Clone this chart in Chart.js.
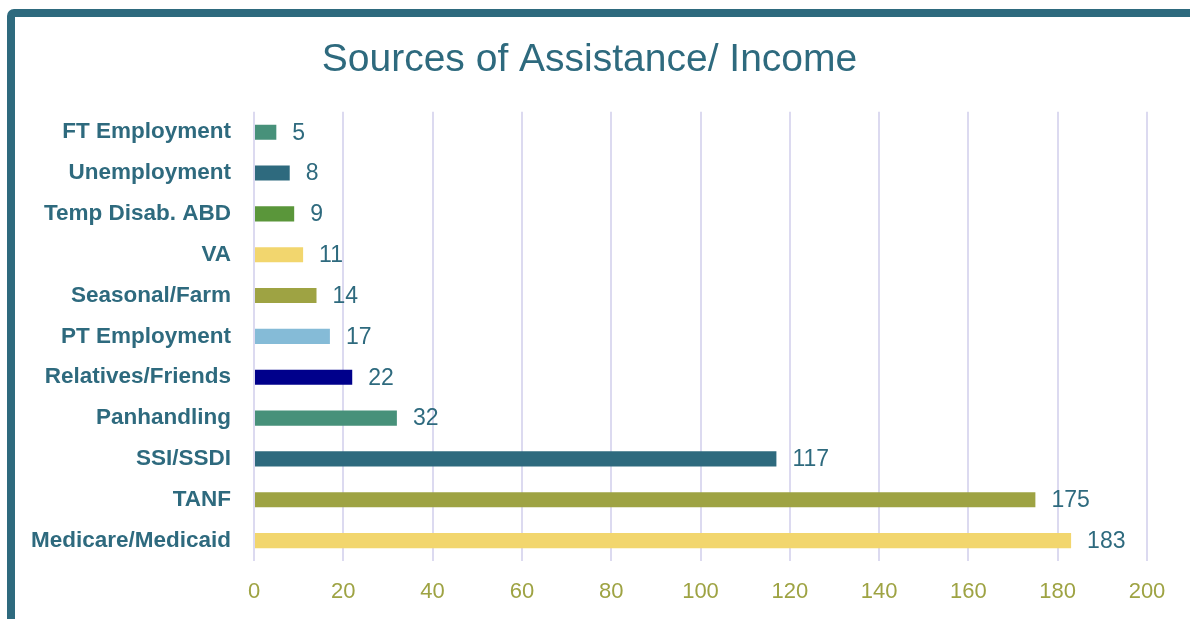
<!DOCTYPE html>
<html lang="en">
<head>
    <meta charset="UTF-8">
    <title>Sources of Assistance/ Income</title>
    <script src="https://cdn.jsdelivr.net/npm/chart.js"></script>
    <style>
        html, body {
            margin: 0;
            padding: 0;
            background: #ffffff;
            overflow: hidden;
        }
        .frame {
            position: absolute;
            left: 7px;
            top: 9px;
            width: 1400px;
            height: 800px;
            border: 8px solid #2e6a7e;
            border-radius: 7px;
        }
        .chart-box {
            position: absolute;
            left: 0;
            top: 0;
            width: 1190px;
            height: 619px;
        }
    </style>
</head>
<body>
    <div class="frame"></div>
    <div class="chart-box">
        <canvas id="incomeChart" width="1190" height="619"></canvas>
    </div>

    <script>
        const sources = [
            'FT Employment', 'Unemployment', 'Temp Disab. ABD', 'VA', 'Seasonal/Farm',
            'PT Employment', 'Relatives/Friends', 'Panhandling', 'SSI/SSDI', 'TANF', 'Medicare/Medicaid'
        ];
        const counts = [5, 8, 9, 11, 14, 17, 22, 32, 117, 175, 183];
        const barColors = [
            '#47917a', '#2e6a7e', '#5a963a', '#f2d66e', '#9ea343',
            '#85bbd7', '#00008b', '#47917a', '#2e6a7e', '#9ea343', '#f2d66e'
        ];
        const xMax = 200;
        const xStep = 20;

        const teal = '#2e6a7e';
        const olive = '#9ea343';
        const fontFamily = '"Liberation Sans", Arial, sans-serif';

        // writes each count just past the end of its bar
        const valueLabels = {
            id: 'valueLabels',
            afterDatasetsDraw(chart) {
                const ctx = chart.ctx;
                const meta = chart.getDatasetMeta(0);
                ctx.save();
                ctx.fillStyle = teal;
                ctx.font = '23px ' + fontFamily;
                ctx.textAlign = 'left';
                ctx.textBaseline = 'middle';
                meta.data.forEach((bar, i) => {
                    ctx.fillText(String(counts[i]), bar.x + 16, bar.y + 1);
                });
                ctx.restore();
            }
        };

        new Chart(document.getElementById('incomeChart').getContext('2d'), {
            type: 'bar',
            data: {
                labels: sources,
                datasets: [{
                    data: counts,
                    backgroundColor: barColors,
                    borderWidth: 0,
                    categoryPercentage: 1,
                    barPercentage: 0.37
                }]
            },
            options: {
                indexAxis: 'y',
                responsive: false,
                animation: false,
                layout: {
                    padding: { left: 32, right: 43, top: 0, bottom: 0 }
                },
                plugins: {
                    legend: { display: false },
                    tooltip: { enabled: false },
                    title: {
                        display: true,
                        text: 'Sources of Assistance/ Income',
                        color: teal,
                        font: { family: fontFamily, size: 39, weight: 'normal' },
                        padding: { top: 37, bottom: 28 }
                    }
                },
                scales: {
                    x: {
                        min: 0,
                        max: xMax,
                        ticks: {
                            stepSize: xStep,
                            color: olive,
                            padding: 18,
                            font: { family: fontFamily, size: 22 }
                        },
                        grid: {
                            color: '#dcdaf0',
                            lineWidth: 2,
                            drawTicks: false
                        },
                        border: { display: false },
                        afterFit(scale) { scale.height = 58; }
                    },
                    y: {
                        ticks: {
                            color: teal,
                            padding: 23,
                            font: { family: fontFamily, size: 22.5, weight: 'bold' }
                        },
                        grid: { display: false, drawTicks: false },
                        border: { display: false },
                        afterFit(scale) { scale.width = 222; }
                    }
                }
            },
            plugins: [valueLabels]
        });
    </script>
</body>
</html>
